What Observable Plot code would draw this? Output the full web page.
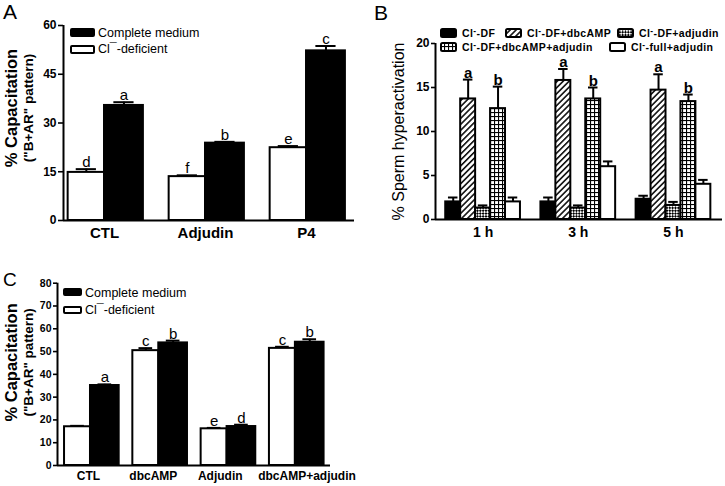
<!DOCTYPE html>
<html><head><meta charset="utf-8">
<script src="https://cdn.jsdelivr.net/npm/d3@7"></script>
<script src="https://cdn.jsdelivr.net/npm/@observablehq/plot@0.6"></script>
<style>
body{margin:0;background:#fff;font-family:"Liberation Sans",Arial,sans-serif;color:#000;}
#root{position:relative;width:725px;height:486px;overflow:hidden;background:#fff;}
.abs{position:absolute;white-space:nowrap;line-height:1;}
.sw{position:absolute;box-sizing:border-box;border:2px solid #000;border-radius:2px;}
.plab{position:absolute;font-size:21px;line-height:1;}
</style></head><body>
<svg width="0" height="0" style="position:absolute">
<defs>
<pattern id="hatch" patternUnits="userSpaceOnUse" width="4.2" height="4.2" patternTransform="rotate(45)">
<rect width="4.2" height="4.2" fill="#fff"/><line x1="0.8" y1="0" x2="0.8" y2="4.2" stroke="#000" stroke-width="1.5"/>
</pattern>
<pattern id="checker" patternUnits="userSpaceOnUse" width="4" height="4" patternTransform="rotate(45)">
<rect width="4" height="4" fill="#fff"/><rect width="2" height="2" fill="#000"/><rect x="2" y="2" width="2" height="2" fill="#000"/>
</pattern>
<pattern id="grid" patternUnits="userSpaceOnUse" width="4" height="4">
<rect width="4" height="4" fill="#fff"/><line x1="0.5" y1="0" x2="0.5" y2="4" stroke="#000" stroke-width="1.2"/><line x1="0" y1="0.5" x2="4" y2="0.5" stroke="#000" stroke-width="1.2"/>
</pattern>
</defs></svg>
<div id="root"></div>
<script>
// ---------- Panel A data ----------
const groupsA = ["CTL", "Adjudin", "P4"];
const clA = [14.8, 13.5, 22.4];        // Cl¯-deficient (white)
const clErrA = [1.0, 0.4, 0.5];
const cmA = [35.4, 23.8, 52.2];        // Complete medium (black)
const cmErrA = [1.0, 0.4, 1.5];
const lettersClA = ["d", "f", "e"];
const lettersCmA = ["a", "b", "c"];
const yTicksA = [0, 15, 30, 45, 60];

// ---------- Panel B data ----------
const timesB = ["1 h", "3 h", "5 h"];
const seriesB = ["Cl-DF", "Cl-DF+dbcAMP", "Cl-DF+adjudin", "Cl-DF+dbcAMP+adjudin", "Cl-full+adjudin"];
const dfB = [2.0, 2.0, 2.3];
const dfErrB = [0.5, 0.5, 0.4];
const dbcB = [13.7, 15.8, 14.7];
const dbcErrB = [2.2, 1.3, 1.8];
const adjB = [1.3, 1.3, 1.6];
const adjErrB = [0.3, 0.3, 0.4];
const dbcAdjB = [12.6, 13.7, 13.4];
const dbcAdjErrB = [2.5, 1.3, 0.8];
const fullAdjB = [2.0, 6.0, 4.0];
const fullAdjErrB = [0.5, 0.6, 0.5];
const lettersB = [["", "a", "", "b", ""], ["", "a", "", "b", ""], ["", "a", "", "b", ""]];
const yTicksB = [0, 5, 10, 15, 20];

// ---------- Panel C data ----------
const groupsC = ["CTL", "dbcAMP", "Adjudin", "dbcAMP+adjudin"];
const clC = [17.0, 50.4, 16.1, 51.4];
const clErrC = [0.4, 1.1, 0.4, 0.7];
const cmC = [35.1, 53.8, 17.1, 54.1];
const cmErrC = [0.5, 1.0, 0.8, 1.3];
const lettersClC = ["", "c", "e", "c"];
const lettersCmC = ["a", "b", "d", "b"];
const yTicksC = [0, 10, 20, 30, 40, 50, 60, 70, 80];

const FONT = "Liberation Sans, Arial, Helvetica, sans-serif";
const root = document.getElementById("root");
function place(el, left, top) {
  el.style.position = "absolute"; el.style.left = left + "px"; el.style.top = top + "px";
  root.appendChild(el); return el;
}
function div(cls, html, left, top, style) {
  const d = document.createElement("div"); d.className = cls; d.innerHTML = html;
  if (style) d.setAttribute("style", style);
  return place(d, left, top);
}

// generic grouped-bar panel
function barPanel(o) {
  const rows = o.rows;
  const cx = d => d.i + (o.offs[d.s][0] + o.offs[d.s][1]) / 2;
  const marks = [];
  o.fills.forEach((f, s) => {
    const sub = rows.filter(d => d.s === s);
    marks.push(Plot.ruleX(sub, {x: cx, y1: "v", y2: d => d.v + d.e, stroke: "#000", strokeWidth: o.errW}));
    marks.push(Plot.ruleY(sub, {y: d => d.v + d.e, x1: d => cx(d) - o.cap, x2: d => cx(d) + o.cap, stroke: "#000", strokeWidth: o.errW}));
    marks.push(Plot.rectY(sub, {x1: d => d.i + o.offs[s][0], x2: d => d.i + o.offs[s][1], y1: 0, y2: "v", fill: f, stroke: "#000", strokeWidth: o.barStroke}));
  });
  marks.push(Plot.text(rows.filter(d => d.t), {x: cx, y: d => d.v + d.e, text: "t", lineAnchor: "bottom", dy: -2, fontSize: o.letterSize, fontWeight: o.letterWeight, fill: "#000"}));
  marks.push(Plot.ruleX([o.xDomain[0]], {stroke: "#000", strokeWidth: 2}));
  marks.push(Plot.ruleY([0], {stroke: "#000", strokeWidth: 2}));
  marks.push(Plot.axisY({ticks: o.yTicks, tickSize: o.tickSize, tickPadding: 2, fontSize: o.yFont, fontWeight: "bold", strokeWidth: 1.6, label: null}));
  const shift = o.labelShift || o.groups.map(() => 0);
  marks.push(Plot.text(o.groups, {x: (g, i) => i + shift[i], frameAnchor: "bottom", lineAnchor: "top", dy: o.xPad, fontSize: o.xFont, fontWeight: "bold", fill: "#000"}));
  o.ylabels.forEach(l => marks.push(Plot.text([l.text], {frameAnchor: "left", rotate: -90, dx: l.dx, dy: l.dy, fontSize: l.size, fontWeight: l.weight, lineAnchor: "middle", textAnchor: "middle", fill: "#000"})));
  return Plot.plot({
    width: o.width, height: o.height,
    marginLeft: o.ml, marginRight: o.mr, marginTop: o.mt, marginBottom: o.mb,
    x: {type: "linear", domain: o.xDomain, axis: null},
    y: {domain: o.yDomain, axis: null},
    style: {fontFamily: FONT, color: "#000", background: "transparent", overflow: "visible"},
    marks
  });
}

// ----- Panel A -----
const rowsA = groupsA.flatMap((g, i) => [
  {i, s: 0, v: clA[i], e: clErrA[i], t: lettersClA[i]},
  {i, s: 1, v: cmA[i], e: cmErrA[i], t: lettersCmA[i]}
]);
const svgA = barPanel({
  rows: rowsA, groups: groupsA, fills: ["#fff", "#000"],
  offs: [[-0.36, 0], [0, 0.385]], cap: 0.1, errW: 2, barStroke: 2,
  width: 362, height: 245, ml: 63, mr: 8, mt: 25, mb: 25,
  xDomain: [-0.406, 2.475], yDomain: [0, 60], yTicks: yTicksA, tickSize: 5, yFont: 12,
  xFont: 15, xPad: 7, letterSize: 15, letterWeight: "normal",
  ylabels: [
    {text: "% Capacitation", dx: -52, dy: -15, size: 16.5, weight: "bold"},
    {text: "(\"B+AR\" pattern)", dx: -35, dy: -15, size: 13.5, weight: "bold"}
  ]
});
place(svgA, 0, 0);

// ----- Panel B -----
const valsB = [dfB, dbcB, adjB, dbcAdjB, fullAdjB];
const errsB = [dfErrB, dbcErrB, adjErrB, dbcAdjErrB, fullAdjErrB];
const wB = 0.157;
const rowsB = timesB.flatMap((t, i) => seriesB.map((s, k) => ({i, s: k, v: valsB[k][i], e: errsB[k][i], t: lettersB[i][k]})));
const svgB = barPanel({
  rows: rowsB, groups: timesB, fills: ["#000", "url(#hatch)", "url(#checker)", "url(#grid)", "#fff"],
  offs: seriesB.map((s, k) => [(k - 2.5) * wB, (k - 1.5) * wB]), cap: 0.05, errW: 2, barStroke: 2,
  width: 355, height: 245, ml: 65, mr: 3, mt: 43, mb: 26,
  xDomain: [-0.5, 2.515], yDomain: [0, 20], yTicks: yTicksB, tickSize: 4, yFont: 12,
  xFont: 14, xPad: 8, letterSize: 15, letterWeight: "bold",
  ylabels: [
    {text: "% Sperm hyperactivation", dx: -37, dy: 0, size: 16, weight: "normal"}
  ]
});
place(svgB, 370, 0);

// ----- Panel C -----
const rowsC = groupsC.flatMap((g, i) => [
  {i, s: 0, v: clC[i], e: clErrC[i], t: lettersClC[i]},
  {i, s: 1, v: cmC[i], e: cmErrC[i], t: lettersCmC[i]}
]);
const svgC = barPanel({
  rows: rowsC, groups: groupsC, fills: ["#fff", "#000"],
  offs: [[-0.38, 0], [0, 0.42]], cap: 0.1, errW: 2, barStroke: 2,
  width: 362, height: 241, ml: 57, mr: 32, mt: 37.7, mb: 21,
  xDomain: [-0.483, 3.514], yDomain: [0, 80], yTicks: yTicksC, tickSize: 4, yFont: 10.5,
  xFont: 12, xPad: 6, letterSize: 15, letterWeight: "normal",
  labelShift: [-0.03, -0.08, -0.1, 0.17],
  ylabels: [
    {text: "% Capacitation", dx: -46, dy: -12, size: 16.5, weight: "bold"},
    {text: "(\"B+AR\" pattern)", dx: -29, dy: -12, size: 13.5, weight: "bold"}
  ]
});
place(svgC, 0, 245);

// ----- panel letters -----
div("plab", "A", 3, 1);
div("plab", "B", 374, 2);
div("plab", "C", 3, 270, "font-size:19px");

// ----- legends A and C -----
const CLM = "Cl<span style=\"position:relative;top:-0.1em\">&#175;</span>-deficient";
function legendAC(x, y, sw, gap, size) {
  div("sw", "", x, y, `width:${sw[0]}px;height:${sw[1]}px;background:#000`);
  div("abs", "Complete medium", x + sw[0] + 3, y - 1, `font-size:${size}px`);
  div("sw", "", x, y + gap, `width:${sw[0]}px;height:${sw[1]}px;background:#fff`);
  div("abs", CLM, x + sw[0] + 3, y + gap - 2, `font-size:${size}px`);
}
legendAC(70, 28, [25, 9], 17, 12.5);
legendAC(63, 288, [19, 8], 18, 12.5);

// ----- legend B -----
function swB(x, y, fill) {
  const s = document.createElementNS("http://www.w3.org/2000/svg", "svg");
  s.setAttribute("width", 17); s.setAttribute("height", 10);
  s.innerHTML = `<rect x="1" y="1" width="15" height="8" rx="1.5" fill="${fill}" stroke="#000" stroke-width="2"/>`;
  place(s, x, y);
}
const CLB = "Cl<span style=\"position:relative;top:-0.35em;font-size:0.8em\">-</span>";
const legB = [
  [440, 28, "#000", CLB + "-DF"],
  [505, 28, "url(#hatch)", CLB + "-DF+dbcAMP"],
  [617, 28, "url(#checker)", CLB + "-DF+adjudin"],
  [440, 42, "url(#grid)", CLB + "-DF+dbcAMP+adjudin"],
  [609, 42, "#fff", CLB + "-full+adjudin"]
];
legB.forEach(([x, y, f, t]) => {
  swB(x, y, f);
  div("abs", t, x + 22, y, "font-size:10.5px;font-weight:bold;letter-spacing:0.4px");
});
</script>
</body></html>
